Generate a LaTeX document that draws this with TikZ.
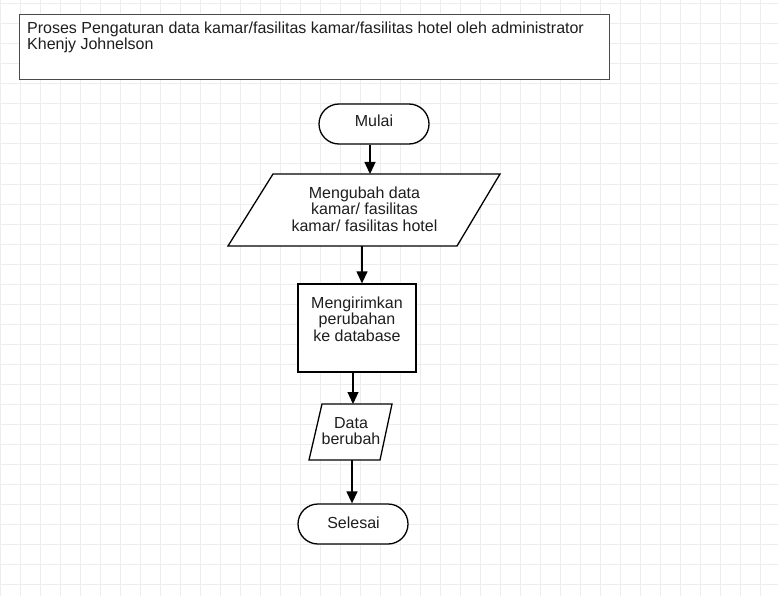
\documentclass[tikz,border=0pt]{standalone}
\usepackage{fontspec}
\setmainfont{Liberation Sans}
\usetikzlibrary{arrows.meta}
\definecolor{gridc}{HTML}{EDEDED}
\definecolor{titleline}{HTML}{4A4A4A}
\definecolor{txtc}{HTML}{1E1E1E}
\begin{document}
\begin{tikzpicture}[x=1pt,y=-1pt,
  shapeline/.style={draw=black, line width=1.3pt, fill=white},
  lbl/.style={inner sep=0pt, align=center, text=txtc, font=\fontsize{16}{16.6}\selectfont},
  arr/.style={draw=black, line width=1.3pt, -{Triangle[length=12pt,width=11pt]}},
  gridline/.style={draw=gridc, line width=1pt}
]
\useasboundingbox (0,0) rectangle (778,596);
\fill[white] (0,0) rectangle (778,596);
\foreach \x in {0,20,...,760} \draw[gridline] (\x,0) -- (\x,596);
\foreach \y in {4,24,...,584} \draw[gridline] (0,\y) -- (778,\y);

% title box
\node[draw=titleline, line width=1.3pt, fill=white, minimum width=590pt, minimum height=65pt, inner sep=0pt, anchor=north west] (title) at (19,14) {};
\node[lbl, align=left, anchor=north west] (titletext) at (27,21.4) {Proses Pengaturan data kamar/fasilitas kamar/fasilitas hotel oleh administrator\\Khenjy Johnelson};

% Mulai
\node[shapeline, rounded corners=20pt, minimum width=110pt, minimum height=40pt, inner sep=0pt] (mulai) at (374,124) {};
\node[lbl] (mulaitext) at (374,121.2) {Mulai};

% input parallelogram
\draw[shapeline] (273,174) -- (500,174) -- (457,246) -- (228,246) -- cycle;
\coordinate (inputtop) at (370,174);
\coordinate (inputbot) at (362,246);
\node[lbl] (ubahtext) at (364.5,209) {Mengubah data\\kamar/ fasilitas\\kamar/ fasilitas hotel};

% process rectangle
\node[shapeline, minimum width=118pt, minimum height=88pt, inner sep=0pt] (kirim) at (357,328) {};
\node[lbl] (kirimtext) at (357,319) {Mengirimkan\\perubahan\\ke database};

% output parallelogram
\draw[shapeline] (322,404) -- (392,404) -- (380,460) -- (309,460) -- cycle;
\coordinate (datatop) at (353,404);
\coordinate (databot) at (352,460);
\node[lbl] (datatext) at (351,431) {Data\\berubah};

% Selesai
\node[shapeline, rounded corners=20pt, minimum width=110pt, minimum height=40pt, inner sep=0pt] (selesai) at (353,524) {};
\node[lbl] (selesaitext) at (353.5,522.5) {Selesai};

% connectors
\draw[arr] ([xshift=-4pt]mulai.south) -- (inputtop);
\draw[arr] (inputbot) -- ([xshift=5pt]kirim.north);
\draw[arr] ([xshift=-4pt]kirim.south) -- (datatop);
\draw[arr] (databot) -- ([xshift=-1pt]selesai.north);
\end{tikzpicture}
\end{document}
